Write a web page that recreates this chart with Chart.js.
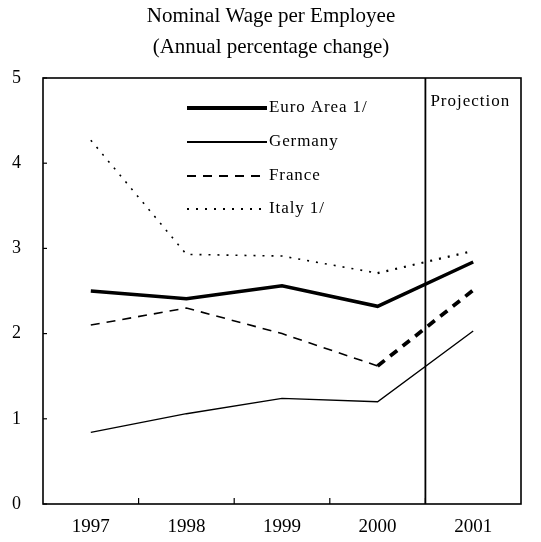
<!DOCTYPE html>
<html>
<head>
<meta charset="utf-8">
<script src="https://cdn.jsdelivr.net/npm/chart.js@4/dist/chart.umd.min.js"></script>
<style>
  html, body { margin: 0; padding: 0; background: #fff; }
  #wrap { width: 541px; height: 542px; }
</style>
</head>
<body>
<div id="wrap"><canvas id="myChart" width="541" height="542"></canvas></div>
<script>
// data
const years = ['1997', '1998', '1999', '2000', '2001'];
const euroArea = [2.50, 2.41, 2.56, 2.32, 2.84];
const germany = [0.84, 1.06, 1.24, 1.20, 2.03];
const france = [2.10, 2.30, 2.00, 1.62, 2.51];
const italy = [4.27, 2.93, 2.91, 2.71, 2.97];
const yTicks = [0, 1, 2, 3, 4, 5];
const titleLines = ['Nominal Wage per Employee', '(Annual percentage change)'];
const projectionLabel = 'Projection';

const serif = "'Liberation Serif', 'Times New Roman', serif";

// thicker dashes on the projected segment
const projected = (ctx, base, proj) => ctx.p1DataIndex === years.length - 1 ? proj : base;

const datasets = [
    { label: 'Euro Area 1/', data: euroArea, borderWidth: 3.5, borderDash: [] },
    { label: 'Germany', data: germany, borderWidth: 1.4, borderDash: [] },
    {
        label: 'France', data: france, borderWidth: 1.6, borderDash: [9, 7],
        segment: { borderWidth: c => projected(c, 1.6, 3.8) }
    },
    {
        label: 'Italy 1/', data: italy, borderWidth: 1.6, borderDash: [2, 7],
        segment: { borderWidth: c => projected(c, 1.6, 2.2) }
    }
].map(d => Object.assign({
    borderColor: '#000',
    backgroundColor: '#000',
    pointRadius: 0,
    tension: 0,
    fill: false
}, d));

const decorations = {
    id: 'decorations',
    afterDraw(chart) {
        const { ctx, chartArea: a, scales: { x, y } } = chart;
        ctx.save();
        ctx.strokeStyle = '#000';
        ctx.fillStyle = '#000';

        // frame
        ctx.lineWidth = 1.6;
        ctx.strokeRect(a.left, a.top, a.right - a.left, a.bottom - a.top);

        // inward ticks
        ctx.lineWidth = 1.2;
        yTicks.forEach(v => {
            const py = y.getPixelForValue(v);
            ctx.beginPath();
            ctx.moveTo(a.left, py);
            ctx.lineTo(a.left + 4, py);
            ctx.stroke();
        });
        for (let i = 0; i < years.length - 1; i++) {
            const px = (x.getPixelForValue(i) + x.getPixelForValue(i + 1)) / 2;
            ctx.beginPath();
            ctx.moveTo(px, a.bottom);
            ctx.lineTo(px, a.bottom - 6);
            ctx.stroke();
        }

        // projection divider
        const n = years.length;
        const divX = (x.getPixelForValue(n - 2) + x.getPixelForValue(n - 1)) / 2;
        ctx.lineWidth = 1.8;
        ctx.beginPath();
        ctx.moveTo(divX, a.top);
        ctx.lineTo(divX, a.bottom);
        ctx.stroke();

        ctx.font = '17px ' + serif;
        ctx.letterSpacing = '1px';
        ctx.textAlign = 'left';
        ctx.textBaseline = 'middle';
        ctx.save();
        ctx.beginPath();
        ctx.rect(divX, a.top, a.right - divX, a.bottom - a.top);
        ctx.clip();
        ctx.fillText(projectionLabel, divX + 5, a.top + 24);
        ctx.restore();

        // legend
        const lx0 = 187, lx1 = 267;
        const rowY = [108, 142, 176, 209];
        ctx.font = '17px ' + serif;
        ctx.letterSpacing = '0.9px';
        datasets.forEach((d, i) => {
            ctx.lineWidth = i === 0 ? 4 : 1.8;
            ctx.setLineDash(d.borderDash);
            ctx.beginPath();
            ctx.moveTo(lx0, rowY[i]);
            ctx.lineTo(lx1, rowY[i]);
            ctx.stroke();
            ctx.setLineDash([]);
            ctx.fillText(d.label, lx1 + 2, rowY[i]);
        });

        // title
        ctx.letterSpacing = '0px';
        ctx.font = '21px ' + serif;
        ctx.textAlign = 'center';
        titleLines.forEach((t, i) => ctx.fillText(t, 271, 16 + i * 31));
        ctx.restore();
    }
};

new Chart(document.getElementById('myChart'), {
    type: 'line',
    data: { labels: years, datasets: datasets },
    options: {
        responsive: false,
        animation: false,
        layout: { padding: { top: 78, right: 20, left: 0, bottom: 0 } },
        plugins: { legend: { display: false }, title: { display: false }, tooltip: { enabled: false } },
        scales: {
            x: {
                offset: true,
                grid: { display: false, drawTicks: false },
                border: { display: false },
                ticks: { color: '#000', padding: 12, font: { family: serif, size: 19 }, maxRotation: 0 },
                afterFit: s => { s.height = 38; }
            },
            y: {
                min: 0,
                max: 5,
                grid: { display: false, drawTicks: false },
                border: { display: false },
                ticks: { color: '#000', stepSize: 1, padding: 22, font: { family: serif, size: 18 } },
                afterFit: s => { s.width = 43; }
            }
        }
    },
    plugins: [decorations]
});
</script>
</body>
</html>
